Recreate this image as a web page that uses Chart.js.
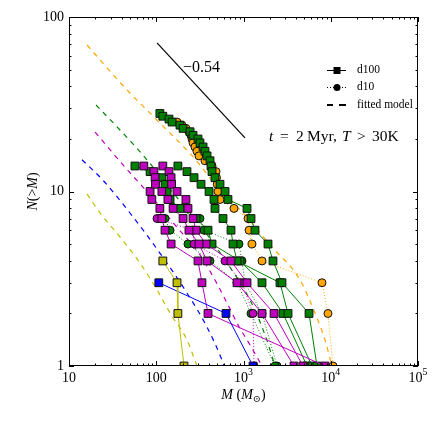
<!DOCTYPE html>
<html>
<head>
<meta charset="utf-8">
<script src="https://cdn.jsdelivr.net/npm/chart.js@4"></script>
<style>
html, body { margin: 0; padding: 0; background: #fff; }
canvas { display: block; }
</style>
</head>
<body>
<canvas id="cmfChart" width="436" height="436"></canvas>
<script>
// Masas (Msun) y N(>M)
const oliveM = [119, 173, 177, 208];
const oliveN = [4, 3, 2, 1];

const blueM = [107, 630, 1285];
const blueN = [3, 2, 1];

const orangeD10M = [173, 197, 219, 237, 250, 257, 264, 278, 293, 309, 362, 436, 484, 490, 500, 510, 538, 778, 1127, 1157, 1252, 1630, 7936, 9295, 10600];
const orangeD10N = [25, 24, 23, 22, 21, 20, 19, 18, 17, 16, 15, 14, 13, 12, 11, 10, 9, 8, 7, 6, 5, 4, 3, 2, 1];

const greenAM = [110, 119, 140, 152, 187, 203, 244, 264, 301, 317, 344, 362, 382, 413, 424, 436, 471, 538, 614, 664, 1097, 1219, 1355, 1909, 2178, 2761, 5637, 6956];
const greenAN = [28, 27, 26, 25, 24, 23, 22, 21, 20, 19, 18, 17, 16, 15, 14, 13, 12, 11, 10, 9, 8, 7, 6, 5, 4, 3, 2, 1];

const greenBM = [177, 225, 271, 326, 403, 459, 471, 582, 719, 758, 843, 2620, 3238, 6100];
const greenBN = [14, 13, 12, 11, 10, 9, 8, 7, 6, 5, 4, 3, 2, 1];

const greenCM = [57, 85, 116, 126, 133, 144, 187, 286, 392, 436, 912, 1630, 2838, 5344];
const greenCN = [14, 13, 12, 11, 10, 9, 8, 7, 6, 5, 4, 3, 2, 1];

const greenD10aM = [126, 144, 231, 413, 843, 1219, 2300];
const greenD10bM = [317, 353, 888, 961, 1040, 1630, 2421];
const greenD10N = [7, 6, 5, 4, 3, 2, 1];

const magentaD10M = [102, 264, 271, 614, 961, 1285, 1320];
const magentaD10N = [7, 6, 5, 4, 3, 2, 1];

const magentaAM = [72, 94, 97, 98, 116, 136, 156, 203, 237, 309, 382, 843, 1630, 3793];
const magentaBM = [119, 140, 148, 150, 173, 219, 231, 264, 286, 372, 719, 1097, 2238, 4808];
const magentaABN = [14, 13, 12, 11, 10, 9, 8, 7, 6, 5, 4, 3, 2, 1];
const magentaCM = [85, 89, 110, 116, 126, 148, 301, 334, 392, 8590];
const magentaCN = [10, 9, 8, 7, 6, 5, 4, 3, 2, 1];

// modelos ajustados (lineas discontinuas)
const orangeFitM = [16.1, 46.2, 110, 264, 538, 1040, 2013, 4446, 6600, 8590, 10300];
const orangeFitN = [69.1, 38.2, 24.7, 15.8, 10.2, 7.33, 4.94, 3.11, 2.01, 1.41, 1];
const greenFitM = [20.4, 40.5, 78.3, 164, 317, 614, 1187, 1763, 2296];
const greenFitN = [31.3, 21.9, 15.2, 9.55, 6.43, 4.05, 2.39, 1.51, 1];
const magentaFitM = [19.9, 43.8, 84.8, 164, 317, 471, 664, 865, 1187, 1630];
const magentaFitN = [21.9, 13.8, 9.55, 6.43, 4.33, 3.11, 2.24, 1.72, 1.32, 1];
const blueFitM = [14.1, 24.5, 50.0, 110, 225, 382, 567, 598];
const blueFitN = [15.2, 11.6, 7.53, 4.44, 2.62, 1.67, 1.08, 1];
const oliveFitM = [16.1, 22.7, 38.4, 65.1, 102, 144, 225, 293];
const oliveFitN = [9.68, 7.53, 5.49, 3.89, 2.73, 2.01, 1.41, 1];

// pendiente de referencia -0.54
const slopeM = [102, 1040];
const slopeN = [71, 20.3];

const xTickValues = [10, 100, 1000, 10000, 100000];
const yTickValues = [1, 10, 100];

const ORANGE = '#ffa500';
const GREEN = '#008000';
const MAGENTA = '#bf00bf';
const BLUE = '#0000ff';
const OLIVE = '#bfbf00';
const SERIF = "'Liberation Serif', 'DejaVu Serif', serif";

function pts(ms, ns) {
    return ms.map((m, i) => ({ x: m, y: ns[i] }));
}

function markerSet(ms, ns, color, shape, dotted) {
    return {
        data: pts(ms, ns),
        showLine: true,
        borderColor: color,
        borderWidth: 1,
        borderDash: dotted ? [1, 2] : [],
        pointStyle: shape,
        pointRadius: shape === 'rect' ? 5.5 : 4,
        pointBackgroundColor: color,
        pointBorderColor: '#111',
        pointBorderWidth: 1
    };
}

function fitSet(ms, ns, color) {
    return {
        data: pts(ms, ns),
        showLine: true,
        borderColor: color,
        borderWidth: 1.2,
        borderDash: [5, 5],
        pointRadius: 0,
        cubicInterpolationMode: 'monotone'
    };
}

// el primer dataset se dibuja encima
const datasets = [
    markerSet(oliveM, oliveN, OLIVE, 'rect', false),
    markerSet(blueM, blueN, BLUE, 'rect', false),
    markerSet(magentaAM, magentaABN, MAGENTA, 'rect', false),
    markerSet(magentaBM, magentaABN, MAGENTA, 'rect', false),
    markerSet(magentaCM, magentaCN, MAGENTA, 'rect', false),
    markerSet(magentaD10M, magentaD10N, MAGENTA, 'circle', true),
    markerSet(greenAM, greenAN, GREEN, 'rect', false),
    markerSet(greenBM, greenBN, GREEN, 'rect', false),
    markerSet(greenCM, greenCN, GREEN, 'rect', false),
    markerSet(greenD10aM, greenD10N, GREEN, 'circle', true),
    markerSet(greenD10bM, greenD10N, GREEN, 'circle', true),
    markerSet(orangeD10M, orangeD10N, ORANGE, 'circle', true),
    fitSet(orangeFitM, orangeFitN, ORANGE),
    fitSet(greenFitM, greenFitN, GREEN),
    fitSet(magentaFitM, magentaFitN, MAGENTA),
    fitSet(blueFitM, blueFitN, BLUE),
    fitSet(oliveFitM, oliveFitN, OLIVE),
    { data: pts(slopeM, slopeN), showLine: true, borderColor: '#000', borderWidth: 1.2, pointRadius: 0 }
];

function fontFor(r, size) {
    const s = (r.sub || r.sup) ? size * 0.7 : size;
    return (r.it ? 'italic ' : '') + s + 'px ' + SERIF;
}

// texto con partes en cursiva / subindices; r.at fija la x de esa parte
function drawRuns(ctx, runs, x, y, size, align) {
    let w = 0;
    runs.forEach(r => { ctx.font = fontFor(r, size); w += ctx.measureText(r.t).width; });
    let cx = align === 'center' ? x - w / 2 : (align === 'right' ? x - w : x);
    ctx.textAlign = 'left';
    runs.forEach(r => {
        ctx.font = fontFor(r, size);
        if (r.at !== undefined) cx = r.at;
        const dy = r.sub ? size * 0.3 : (r.sup ? -size * 0.4 : 0);
        ctx.fillText(r.t, cx, y + dy);
        cx += ctx.measureText(r.t).width;
    });
}

function line(ctx, x1, y1, x2, y2) {
    ctx.beginPath();
    ctx.moveTo(x1, y1);
    ctx.lineTo(x2, y2);
    ctx.stroke();
}

const extras = {
    id: 'extras',
    afterDraw(chart) {
        const { ctx, chartArea: a, scales: { x, y } } = chart;
        ctx.save();
        ctx.strokeStyle = '#000';
        ctx.fillStyle = '#000';
        ctx.lineWidth = 1;
        ctx.setLineDash([]);

        // marco
        ctx.strokeRect(a.left + 0.5, a.top + 0.5, a.right - a.left - 1, a.bottom - a.top - 1);

        // marcas hacia dentro en los cuatro lados
        for (let d = 10; d <= 100000; d *= 10) {
            for (let k = 1; k < 10; k++) {
                const v = d * k;
                if (v > 100000) break;
                const px = Math.round(x.getPixelForValue(v)) + 0.5;
                const len = k === 1 ? 5 : 2.5;
                line(ctx, px, a.bottom, px, a.bottom - len);
                line(ctx, px, a.top, px, a.top + len);
            }
        }
        for (let d = 1; d <= 100; d *= 10) {
            for (let k = 1; k < 10; k++) {
                const v = d * k;
                if (v > 100) break;
                const py = Math.round(y.getPixelForValue(v)) + 0.5;
                const len = k === 1 ? 5 : 2.5;
                line(ctx, a.left, py, a.left + len, py);
                line(ctx, a.right, py, a.right - len, py);
            }
        }

        // etiquetas de los ejes
        ctx.textBaseline = 'middle';
        yTickValues.forEach(v => {
            drawRuns(ctx, [{ t: String(v) }], a.left - 5, y.getPixelForValue(v), 14, 'right');
        });
        xTickValues.forEach(v => {
            const e = Math.round(Math.log10(v));
            const runs = e <= 2 ? [{ t: String(v) }] : [{ t: '10' }, { t: String(e), sup: true }];
            drawRuns(ctx, runs, x.getPixelForValue(v), a.bottom + 12, 14, 'center');
        });

        drawRuns(ctx, [{ t: 'M', it: true }, { t: ' (' }, { t: 'M', it: true }, { t: '\u2299', sub: true }, { t: ')' }],
            (a.left + a.right) / 2, a.bottom + 29, 14, 'center');

        ctx.save();
        ctx.translate(33, (a.top + a.bottom) / 2);
        ctx.rotate(-Math.PI / 2);
        drawRuns(ctx, [{ t: 'N', it: true }, { t: '(>' }, { t: 'M', it: true }, { t: ')' }], 0, 0, 14, 'center');
        ctx.restore();

        // anotaciones
        drawRuns(ctx, [{ t: '\u22120.54' }], 183, 68, 16, 'left');
        drawRuns(ctx, [
            { t: 't', it: true, at: 269 }, { t: '=', at: 280 }, { t: '2', at: 296 }, { t: 'Myr,', at: 307 },
            { t: 'T', it: true, at: 342 }, { t: '>', at: 357 }, { t: '30K', at: 372 }
        ], 269, 137, 15.5, 'left');

        // leyenda
        const lx1 = 327, lx2 = 346, mx = 337, tx = 357;
        ctx.lineWidth = 1;
        line(ctx, lx1, 70.5, lx2, 70.5);
        ctx.fillRect(mx - 3.5, 67, 7, 7);
        ctx.setLineDash([1, 2]);
        line(ctx, lx1, 87.5, lx2, 87.5);
        ctx.setLineDash([]);
        ctx.beginPath();
        ctx.arc(mx, 87.5, 3.5, 0, Math.PI * 2);
        ctx.fill();
        ctx.lineWidth = 2;
        line(ctx, lx1, 105, lx1 + 6, 105);
        line(ctx, lx1 + 12, 105, lx2, 105);
        drawRuns(ctx, [{ t: 'd100' }], tx, 70, 11.5, 'left');
        drawRuns(ctx, [{ t: 'd10' }], tx, 87, 11.5, 'left');
        drawRuns(ctx, [{ t: 'fitted model' }], tx, 105, 11.5, 'left');

        ctx.restore();
    }
};

const ctx = document.getElementById('cmfChart').getContext('2d');
new Chart(ctx, {
    type: 'scatter',
    data: { datasets: datasets },
    options: {
        responsive: false,
        animation: false,
        events: [],
        layout: { padding: { top: 17, right: 18, left: 0, bottom: 0 } },
        plugins: {
            legend: { display: false },
            tooltip: { enabled: false }
        },
        scales: {
            x: {
                type: 'logarithmic',
                min: 10,
                max: 100000,
                grid: { display: false },
                border: { display: false },
                ticks: { display: false },
                afterFit: s => { s.height = 70; }
            },
            y: {
                type: 'logarithmic',
                min: 1,
                max: 100,
                grid: { display: false },
                border: { display: false },
                ticks: { display: false },
                afterFit: s => { s.width = 69; }
            }
        }
    },
    plugins: [extras]
});
</script>
</body>
</html>
